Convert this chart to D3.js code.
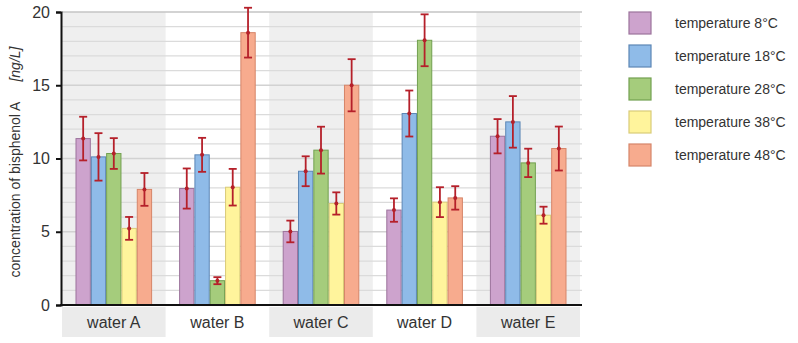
<!DOCTYPE html>
<html>
<head>
<meta charset="utf-8">
<title>Bisphenol A concentration</title>
<script src="https://cdn.jsdelivr.net/npm/d3@7/dist/d3.min.js"></script>
<style>
    body { margin: 0; background: #fff; }
    text { font-family: "Liberation Sans", Arial, sans-serif; fill: #333; }
</style>
</head>
<body>
<div id="chart"></div>
<script>
// data
var waters = ["water A", "water B", "water C", "water D", "water E"];
var series = ["temperature 8°C", "temperature 18°C", "temperature 28°C", "temperature 38°C", "temperature 48°C"];
var t8  = [11.36, 7.95, 5.02, 6.48, 11.52];
var t18 = [10.11, 10.25, 9.13, 13.07, 12.5];
var t28 = [10.34, 1.66, 10.57, 18.07, 9.7];
var t38 = [5.23, 8.04, 6.93, 7.02, 6.13];
var t48 = [7.89, 18.59, 15.0, 7.31, 10.68];
// half-length of the error bars
var e8  = [1.49, 1.37, 0.74, 0.8, 1.17];
var e18 = [1.62, 1.16, 1.02, 1.57, 1.76];
var e28 = [1.05, 0.24, 1.6, 1.77, 0.97];
var e38 = [0.78, 1.25, 0.76, 1.02, 0.58];
var e48 = [1.12, 1.7, 1.78, 0.8, 1.5];
var yTicks = [0, 5, 10, 15, 20];

var values = [t8, t18, t28, t38, t48];
var errors = [e8, e18, e28, e38, e48];
var fills   = ["#cda3cd", "#8fbbe8", "#a5cc7c", "#fff49c", "#f7ab8e"];
var strokes = ["#9c739c", "#5c86b5", "#72a050", "#d9cb78", "#d68569"];

var W = 798, H = 343;
var svg = d3.select("#chart").append("svg").attr("width", W).attr("height", H);

var x = d3.scaleBand().domain(waters).range([62, 580]).padding(0);
var xs = d3.scaleBand().domain(series).range([13.5, x.bandwidth() - 13.5]).padding(0);
var y = d3.scaleLinear().domain([0, 20]).range([305, 12]);

// alternating background bands + label boxes
waters.forEach(function(w, i) {
    if (i % 2 === 0) {
        svg.append("rect").attr("x", x(w)).attr("y", y(20))
            .attr("width", x.bandwidth()).attr("height", y(0) - y(20))
            .attr("fill", "#efefef");
        svg.append("rect").attr("x", x(w)).attr("y", 307)
            .attr("width", x.bandwidth()).attr("height", 30)
            .attr("fill", "#ebebeb");
    }
});

// gridlines every 1 unit
svg.append("g").selectAll("line")
    .data(d3.range(1, 21))
    .enter().append("line")
    .attr("x1", 62).attr("x2", 582)
    .attr("y1", function(d) { return y(d); })
    .attr("y2", function(d) { return y(d); })
    .attr("stroke", function(d) { return d === 20 ? "#c4c4c4" : (d % 5 === 0 ? "#d2d2d2" : "#dbdbdb"); })
    .attr("stroke-width", 1.3);

// bars
var groups = svg.append("g").selectAll("g")
    .data(waters)
    .enter().append("g")
    .attr("transform", function(d) { return "translate(" + x(d) + ",0)"; });

series.forEach(function(s, si) {
    groups.append("rect")
        .attr("x", xs(s) + 0.5)
        .attr("width", xs.bandwidth() - 1)
        .attr("y", function(d, i) { return y(values[si][i]); })
        .attr("height", function(d, i) { return y(0) - y(values[si][i]); })
        .attr("fill", fills[si])
        .attr("stroke", strokes[si])
        .attr("stroke-width", 1);
});

// error bars
series.forEach(function(s, si) {
    var cx = xs(s) + xs.bandwidth() / 2;
    groups.append("line")
        .attr("x1", cx).attr("x2", cx)
        .attr("y1", function(d, i) { return y(values[si][i] + errors[si][i]); })
        .attr("y2", function(d, i) { return y(values[si][i] - errors[si][i]); })
        .attr("stroke", "#b5202a").attr("stroke-width", 1.8);
    [1, -1].forEach(function(sign) {
        groups.append("line")
            .attr("x1", cx - 4).attr("x2", cx + 4)
            .attr("y1", function(d, i) { return y(values[si][i] + sign * errors[si][i]); })
            .attr("y2", function(d, i) { return y(values[si][i] + sign * errors[si][i]); })
            .attr("stroke", "#b5202a").attr("stroke-width", 1.8);
    });
    groups.append("circle")
        .attr("cx", cx)
        .attr("cy", function(d, i) { return y(values[si][i]); })
        .attr("r", 2)
        .attr("fill", "#b5202a");
});

// axes
var yAxis = svg.append("g")
    .attr("transform", "translate(61,0)")
    .call(d3.axisLeft(y).tickValues(yTicks).tickSize(5).tickPadding(6));
yAxis.select(".domain").attr("stroke", "#111").attr("stroke-width", 2);
yAxis.selectAll(".tick line").attr("stroke", "#111").attr("stroke-width", 2);
yAxis.selectAll(".tick text").style("font-size", "16px").attr("fill", "#333")
    .style("font-family", "Liberation Sans, Arial, sans-serif");

svg.append("line")
    .attr("x1", 60).attr("x2", 582)
    .attr("y1", y(0)).attr("y2", y(0))
    .attr("stroke", "#111").attr("stroke-width", 2);

// category labels
svg.append("g").selectAll("text")
    .data(waters)
    .enter().append("text")
    .attr("x", function(d) { return x(d) + x.bandwidth() / 2; })
    .attr("y", 328)
    .attr("text-anchor", "middle")
    .style("font-size", "16px")
    .text(function(d) { return d; });

// y axis title
var yt = svg.append("text")
    .attr("transform", "translate(20,162) rotate(-90)")
    .attr("text-anchor", "middle")
    .style("font-size", "14px");
yt.append("tspan").text("concentration of bisphenol A");
yt.append("tspan").attr("dx", 20).style("font-style", "italic").text("[ng/L]");

// legend
var legend = svg.append("g").selectAll("g")
    .data(series)
    .enter().append("g")
    .attr("transform", function(d, i) { return "translate(629," + (12 + i * 33) + ")"; });
legend.append("rect")
    .attr("width", 22).attr("height", 22)
    .attr("fill", function(d, i) { return fills[i]; })
    .attr("stroke", function(d, i) { return strokes[i]; })
    .attr("stroke-width", 1.2);
legend.append("text")
    .attr("x", 46).attr("y", 16)
    .style("font-size", "14px")
    .text(function(d) { return d; });
</script>
</body>
</html>
